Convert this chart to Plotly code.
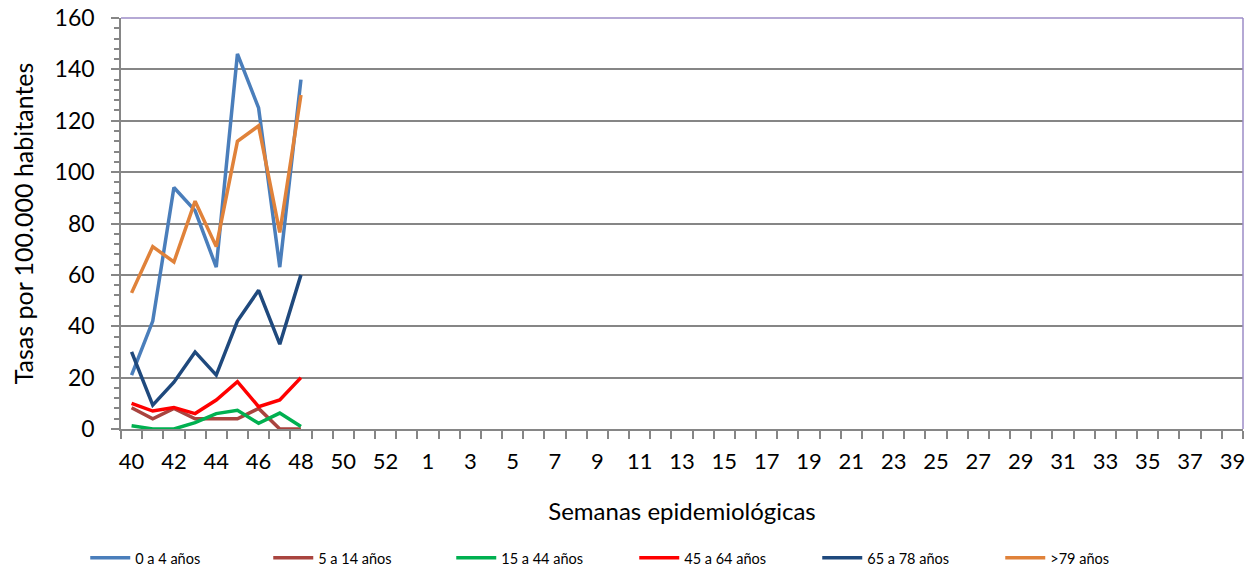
import plotly.graph_objects as go

weeks = [str(w) for w in list(range(40, 54)) + list(range(1, 40))]
tick_text = [w if i % 2 == 0 else "" for i, w in enumerate(weeks)]

obs_weeks = ["40", "41", "42", "43", "44", "45", "46", "47", "48"]
s_0_4 = [21, 42, 94, 85, 63, 146, 125, 63, 136]
s_5_14 = [8.3, 4, 8, 4, 4, 4, 8, 0, 0]
s_15_44 = [1.3, 0, 0, 2.5, 6, 7.3, 2.2, 6.2, 1]
s_45_64 = [10, 7, 8.4, 6, 11.3, 18.4, 8.7, 11.3, 20]
s_65_78 = [30, 9.3, 18.2, 30, 21, 42, 54, 33, 60]
s_79 = [53, 71, 65, 88.7, 71, 112, 118, 76.5, 130]

series = [
    ("0 a 4 años", s_0_4, "#4A7EBB"),
    ("5 a 14 años", s_5_14, "#A9443F"),
    ("15 a 44 años", s_15_44, "#00B050"),
    ("45 a 64 años", s_45_64, "#FF0000"),
    ("65 a 78 años", s_65_78, "#1F497D"),
    (">79 años", s_79, "#E0823A"),
]

fig = go.Figure()
for name, vals, col in series:
    fig.add_trace(go.Scatter(x=obs_weeks, y=vals, mode="lines", name=name,
                             line=dict(color=col, width=3.5)))

axis_gray = "#868686"
font_main = "Lato, Carlito, 'Liberation Sans', sans-serif"

fig.update_layout(
    width=1246, height=560,
    margin=dict(l=113, r=11, t=10, b=139),
    paper_bgcolor="white", plot_bgcolor="white",
    font=dict(family=font_main, color="black"),
    showlegend=True,
    legend=dict(orientation="h", xref="container", x=0.062, xanchor="left",
                yref="container", y=0.018, yanchor="middle",
                entrywidth=128, entrywidthmode="pixels",
                font=dict(size=14.5, family=font_main),
                itemwidth=40),
    xaxis=dict(type="category", categoryorder="array", categoryarray=weeks,
               range=[-0.5, len(weeks) - 0.5], automargin=False,
               tickmode="array", tickvals=weeks, ticktext=tick_text,
               tickson="boundaries", ticks="outside", ticklen=8,
               tickcolor=axis_gray, tickwidth=1.5, ticklabelstandoff=12,
               showline=True, linecolor=axis_gray, linewidth=1.5,
               showgrid=False, tickfont=dict(size=22), tickangle=0,
               title=dict(text="Semanas epidemiológicas", font=dict(size=24),
                          standoff=30)),
    yaxis=dict(range=[0, 160], dtick=20, tick0=0, automargin=False,
               ticks="outside", ticklen=8, tickcolor=axis_gray, tickwidth=1.5,
               ticklabelstandoff=12, ticklabeloverflow="allow",
               minor=dict(dtick=4, ticks="outside", ticklen=5,
                          tickcolor=axis_gray, tickwidth=1.5, showgrid=False),
               showline=True, linecolor=axis_gray, linewidth=1.5,
               showgrid=True, gridcolor=axis_gray, gridwidth=1.5,
               zeroline=False, tickfont=dict(size=23),
               title=dict(text="Tasas por 100.000 habitantes", font=dict(size=25),
                          standoff=22)),
)

frame = "#9D8CC7"
fig.add_shape(type="line", xref="paper", yref="paper", x0=0, x1=1, y0=1, y1=1,
              line=dict(color=frame, width=1.5))
fig.add_shape(type="line", xref="paper", yref="paper", x0=1, x1=1, y0=0, y1=1,
              line=dict(color=frame, width=1.5))

fig.write_html("out.html")
